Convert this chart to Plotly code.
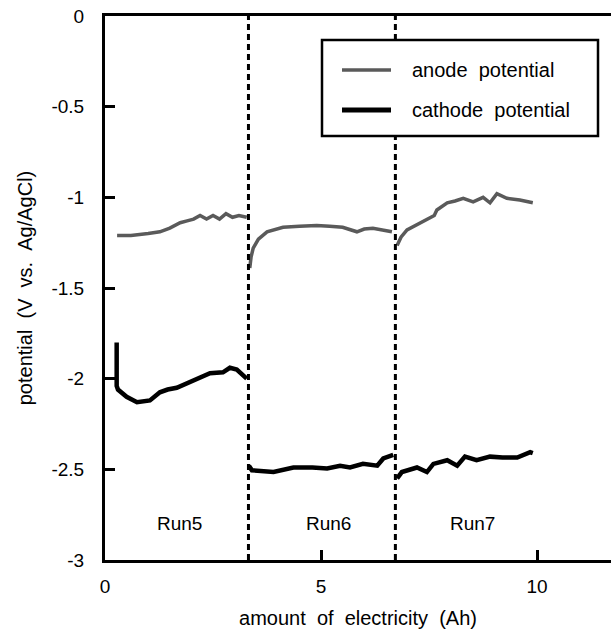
import plotly.graph_objects as go

# ---- data ----
anode_run5_x = [0.28, 0.6, 1.0, 1.27, 1.5, 1.74, 1.9, 2.05, 2.2, 2.35, 2.5, 2.65, 2.8, 2.95, 3.1, 3.28]
anode_run5_y = [-1.21, -1.21, -1.20, -1.19, -1.17, -1.14, -1.13, -1.12, -1.10, -1.12, -1.10, -1.12, -1.09, -1.11, -1.10, -1.11]
anode_run6_x = [3.35, 3.38, 3.43, 3.55, 3.75, 3.95, 4.12, 4.5, 4.9, 5.2, 5.5, 5.83, 6.0, 6.2, 6.45, 6.64]
anode_run6_y = [-1.39, -1.33, -1.28, -1.23, -1.19, -1.175, -1.165, -1.16, -1.155, -1.16, -1.165, -1.19, -1.175, -1.17, -1.18, -1.19]
anode_run7_x = [6.76, 6.85, 6.99, 7.15, 7.29, 7.52, 7.62, 7.68, 7.8, 7.92, 8.1, 8.29, 8.52, 8.75, 8.91, 9.07, 9.3, 9.6, 9.9]
anode_run7_y = [-1.265, -1.22, -1.18, -1.16, -1.14, -1.11, -1.10, -1.07, -1.05, -1.03, -1.02, -1.005, -1.025, -1.0, -1.03, -0.98, -1.005, -1.015, -1.03]

cathode_run5_x = [0.27, 0.27, 0.3, 0.5, 0.74, 1.04, 1.27, 1.45, 1.66, 2.04, 2.43, 2.73, 2.89, 3.05, 3.28]
cathode_run5_y = [-1.80, -2.04, -2.06, -2.10, -2.13, -2.12, -2.075, -2.06, -2.05, -2.01, -1.97, -1.965, -1.94, -1.95, -2.00]
cathode_run6_x = [3.33, 3.4, 3.9, 4.36, 4.8, 5.14, 5.44, 5.67, 5.97, 6.3, 6.44, 6.67]
cathode_run6_y = [-2.48, -2.505, -2.515, -2.49, -2.49, -2.495, -2.48, -2.49, -2.47, -2.48, -2.44, -2.42]
cathode_run7_x = [6.76, 6.87, 7.22, 7.45, 7.6, 7.92, 8.15, 8.33, 8.6, 8.91, 9.2, 9.54, 9.84, 9.9]
cathode_run7_y = [-2.55, -2.515, -2.49, -2.515, -2.47, -2.45, -2.48, -2.43, -2.45, -2.43, -2.435, -2.435, -2.405, -2.41]

run_boundaries = [3.32, 6.72]
run_labels = ["Run5", "Run6", "Run7"]
run_label_x = [1.72, 5.17, 8.5]
run_label_y = -2.8

y_ticks = [0, -0.5, -1, -1.5, -2, -2.5, -3]
y_tick_text = ["0", "-0.5", "-1", "-1.5", "-2", "-2.5", "-3"]
x_ticks = [0, 5, 10]
x_tick_text = ["0", "5", "10"]

series_names = ["anode  potential", "cathode  potential"]
x_title = "amount  of  electricity  (Ah)"
y_title = "potential  (V  vs.  Ag/AgCl)"


def join(*segs):
    xs, ys = [], []
    for sx, sy in segs:
        if xs:
            xs.append(None)
            ys.append(None)
        xs += sx
        ys += sy
    return xs, ys


def nb(s):
    return s.replace(" ", "\u00a0")


ax, ay = join((anode_run5_x, anode_run5_y), (anode_run6_x, anode_run6_y), (anode_run7_x, anode_run7_y))
cx, cy = join((cathode_run5_x, cathode_run5_y), (cathode_run6_x, cathode_run6_y), (cathode_run7_x, cathode_run7_y))

FONT = "Liberation Sans, Arial, sans-serif"
ANODE_COLOR = "#5a5a5a"
CATHODE_COLOR = "black"

# plot area in pixels (for placing the boxed legend)
L, T, W, H = 105, 16, 506, 544


def px(xp):
    return (xp - L) / W


def py(yp):
    return 1 - (yp - T) / H


fig = go.Figure()
fig.add_trace(go.Scatter(x=ax, y=ay, mode="lines", name=series_names[0],
                         line=dict(color=ANODE_COLOR, width=3.5), connectgaps=False,
                         showlegend=False))
fig.add_trace(go.Scatter(x=cx, y=cy, mode="lines", name=series_names[1],
                         line=dict(color=CATHODE_COLOR, width=4.5), connectgaps=False,
                         showlegend=False))

for xb in run_boundaries:
    fig.add_shape(type="line", x0=xb, x1=xb, y0=-3, y1=0, xref="x", yref="y",
                  line=dict(color="black", width=3, dash="6px,4px"))

for lbl, lx in zip(run_labels, run_label_x):
    fig.add_annotation(x=lx, y=run_label_y, text=lbl, showarrow=False,
                       font=dict(family=FONT, size=19, color="black"))

# boxed legend
fig.add_shape(type="rect", xref="paper", yref="paper",
              x0=px(322), x1=px(598), y0=py(136), y1=py(40),
              line=dict(color="black", width=2.5), fillcolor="white", layer="above")
for name, color, width, yp in [(series_names[0], ANODE_COLOR, 3.5, 70),
                               (series_names[1], CATHODE_COLOR, 5, 110)]:
    fig.add_shape(type="line", xref="paper", yref="paper",
                  x0=px(342), x1=px(391), y0=py(yp), y1=py(yp),
                  line=dict(color=color, width=width), layer="above")
    fig.add_annotation(xref="paper", yref="paper", x=px(410), y=py(yp),
                       xanchor="left", yanchor="middle", text=nb(name), showarrow=False,
                       font=dict(family=FONT, size=20, color="black"))

fig.update_layout(
    width=611, height=634,
    margin=dict(l=L, r=611 - L - W, t=T, b=634 - T - H),
    paper_bgcolor="white", plot_bgcolor="white",
    font=dict(family=FONT, size=19, color="black"),
    showlegend=False,
    xaxis=dict(range=[0, 11.71], tickvals=x_ticks, ticktext=x_tick_text,
               ticks="inside", ticklen=10, tickwidth=2.5, tickcolor="black",
               showline=True, linecolor="black", linewidth=3, mirror=True,
               showgrid=False, zeroline=False, ticklabelstandoff=7,
               title=dict(text=nb(x_title), standoff=16,
                          font=dict(family=FONT, size=20)),
               tickfont=dict(family=FONT, size=19)),
    yaxis=dict(range=[-3, 0], tickvals=y_ticks, ticktext=y_tick_text,
               ticks="inside", ticklen=10, tickwidth=2.5, tickcolor="black",
               showline=True, linecolor="black", linewidth=3, mirror=False,
               showgrid=False, zeroline=False, ticklabelstandoff=14,
               title=dict(text=nb(y_title), standoff=14,
                          font=dict(family=FONT, size=20)),
               tickfont=dict(family=FONT, size=19)),
)

fig.write_html("out.html")
